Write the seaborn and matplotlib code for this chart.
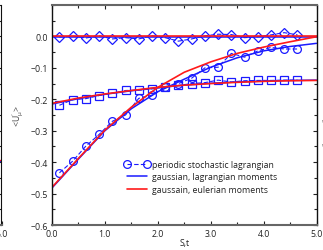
import numpy as np
import pandas as pd
import matplotlib
matplotlib.use("Agg")
import matplotlib.pyplot as plt
from matplotlib.lines import Line2D
from matplotlib.ticker import MultipleLocator
import seaborn as sns

sns.set_style("ticks")
plt.rcParams['font.family'] = ['Open Sans', 'DejaVu Sans']
plt.rcParams['mathtext.fontset'] = 'custom'
plt.rcParams['mathtext.rm'] = 'Open Sans'
plt.rcParams['mathtext.it'] = 'Open Sans'

# ---- data ----
x_marks = [0.14, 0.39, 0.64, 0.89, 1.14, 1.39, 1.64, 1.89, 2.14, 2.39,
           2.64, 2.89, 3.14, 3.39, 3.64, 3.89, 4.14, 4.39, 4.64]
diamond_y = [-0.002, 0.001, -0.005, 0.002, -0.008, -0.004, -0.008, 0.002, -0.004, -0.015,
             -0.008, 0.002, 0.007, 0.006, -0.004, -0.001, 0.005, 0.012, 0.005]
square_y = [-0.219, -0.201, -0.198, -0.188, -0.181, -0.172, -0.171, -0.167, -0.161, -0.156,
            -0.150, -0.147, -0.139, -0.145, -0.141, -0.140, -0.140, -0.139, -0.139]
circle_y = [-0.434, -0.397, -0.349, -0.312, -0.270, -0.250, -0.197, -0.187, -0.160, -0.150,
            -0.133, -0.100, -0.098, -0.054, -0.066, -0.046, -0.035, -0.040, -0.040]

t_curve = [0.0, 0.5, 1.0, 1.5, 2.0, 2.5, 3.0, 3.5, 4.0, 4.5, 5.0]
circ_euler = [-0.480, -0.388, -0.298, -0.225, -0.162, -0.114, -0.081, -0.054, -0.034, -0.017, -0.001]
circ_lagr = [-0.482, -0.390, -0.300, -0.230, -0.176, -0.136, -0.098, -0.068, -0.046, -0.032, -0.022]
sq_euler = [-0.213, -0.196, -0.183, -0.172, -0.162, -0.155, -0.150, -0.146, -0.143, -0.141, -0.140]
sq_lagr = [-0.215, -0.198, -0.184, -0.173, -0.163, -0.155, -0.149, -0.145, -0.142, -0.140, -0.139]
dia_euler = [0.0] * 11
dia_lagr = [-0.001] * 11

x_ticks = [0, 1, 2, 3, 4, 5]
x_ticklabels = ["0.0", "1.0", "2.0", "3.0", "4.0", "5.0"]
y_ticks = [-0.6, -0.5, -0.4, -0.3, -0.2, -0.1, 0.0]
y_ticklabels = ["\u22120.6", "\u22120.5", "\u22120.4", "\u22120.3", "\u22120.2", "\u22120.1", "0.0"]

legend_labels = ["periodic stochastic lagrangian", "gaussian, lagrangian moments",
                 "gaussain, eulerian moments"]

BLUE = "#1a1aff"
RED = "#ff1a1a"
FS = 6.3

W, H = 323, 251
fig = plt.figure(figsize=(W / 100, H / 100), dpi=100)
L, R, T, B = 52, 316.5, 6, 226
ax = fig.add_axes([L / W, 1 - B / H, (R - L) / W, (B - T) / H])

# gaussian lagrangian (blue solid)
for ys in (circ_lagr, sq_lagr, dia_lagr):
    df = pd.DataFrame({"t": t_curve, "y": ys})
    sns.lineplot(data=df, x="t", y="y", ax=ax, color=BLUE, lw=1.1, sort=False)

# periodic stochastic lagrangian (blue dashed with markers)
for ys, mk in ((circle_y, "o"), (square_y, "s"), (diamond_y, "D")):
    df = pd.DataFrame({"t": x_marks, "y": ys})
    sns.lineplot(data=df, x="t", y="y", ax=ax, color=BLUE, lw=0.8, sort=False,
                 linestyle=(0, (4, 2)), marker=mk, markersize=5.6 if mk != "D" else 4.8,
                 markerfacecolor="none", markeredgecolor=BLUE, markeredgewidth=0.9)

# gaussian eulerian (red solid)
for ys in (circ_euler, sq_euler, dia_euler):
    df = pd.DataFrame({"t": t_curve, "y": ys})
    sns.lineplot(data=df, x="t", y="y", ax=ax, color=RED, lw=1.2, sort=False)

ax.set_xlim(0, 5)
ax.set_ylim(-0.6, 0.1)
ax.set_xticks(x_ticks)
ax.set_xticklabels(x_ticklabels)
ax.set_yticks(y_ticks)
ax.set_yticklabels(y_ticklabels)
ax.xaxis.set_minor_locator(MultipleLocator(0.5))
ax.yaxis.set_minor_locator(MultipleLocator(0.05))
ax.tick_params(which="both", direction="in", top=True, right=True,
               labelsize=FS, colors="#222222", width=0.8, pad=3)
ax.tick_params(which="major", length=3)
ax.tick_params(which="minor", length=2)
for s in ("top", "bottom"):
    ax.spines[s].set_color("#666666")
    ax.spines[s].set_linewidth(1.5)
for s in ("left", "right"):
    ax.spines[s].set_color("#111111")
    ax.spines[s].set_linewidth(1.0)
for s in ax.spines.values():
    s.set_visible(True)

ax.set_xlabel("S,t", fontsize=FS, color="#222222")
ax.set_ylabel("<U$_{\\mu}^{\\prime}$>", fontsize=FS, color="#444444")
ax.xaxis.set_label_coords(0.5, -0.058)
ax.yaxis.set_label_coords((26 - L) / (R - L), (B - 116) / (B - T))

handles = [
    Line2D([0], [0], color=BLUE, lw=0.8, linestyle=(0, (4, 2)), marker="o",
           markersize=5.6, markerfacecolor="none", markeredgecolor=BLUE, markeredgewidth=0.9),
    Line2D([0], [0], color=BLUE, lw=1.1),
    Line2D([0], [0], color=RED, lw=1.2),
]
leg = ax.legend(handles, legend_labels, loc="upper left", frameon=False,
                bbox_to_anchor=((124 - L) / (R - L), (B - 161) / (B - T)),
                borderpad=0, borderaxespad=0, handlelength=2.9, handletextpad=0.3,
                labelspacing=0.38, numpoints=2, fontsize=FS)
for txt in leg.get_texts():
    txt.set_color("#222222")

# neighbouring panel fragments (cropped in the reference)
axl = fig.add_axes([-200 / W, 1 - B / H, 201.5 / W, (B - T) / H])
axl.set_xlim(0, 5)
axl.set_ylim(-0.6, 0.1)
axl.set_xticks([5])
axl.set_xticklabels(["5.0"])
axl.yaxis.set_minor_locator(MultipleLocator(0.05))
axl.set_yticks(y_ticks)
axl.set_yticklabels([])
axl.tick_params(which="both", direction="in", right=True, left=False,
                labelsize=FS, colors="#222222", width=0.8, length=3, pad=3)
axl.plot([4.9, 5.0], [-0.395, -0.395], color=BLUE, lw=1.0)
axl.plot([4.9, 5.0], [-0.393, -0.393], color=RED, lw=1.0)
for s in ("left", "top"):
    axl.spines[s].set_visible(False)
axl.spines["right"].set_color("#111111")
axl.spines["bottom"].set_color("#666666")
axl.spines["bottom"].set_linewidth(1.5)

fig.text(321.5 / W, 1 - 130 / H, "<U$_{\\mu}^{2}$>/<U$^{2}$(0)>", rotation=90,
         fontsize=FS, color="#555555", ha="left", va="center")

fig.savefig("out.png", dpi=100)
